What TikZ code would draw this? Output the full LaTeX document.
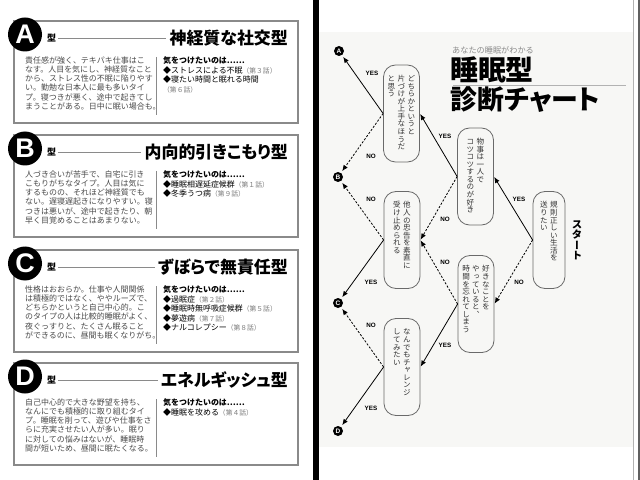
\documentclass[tikz,border=0pt]{standalone}
\usepackage{fontspec}
\usepackage{graphicx}
\setmainfont{Noto Sans CJK JP}
\newfontfamily\jp{Noto Sans CJK JP}
\newfontfamily\jpp[RawFeature=+palt]{Noto Sans CJK JP}
\newfontfamily\tatefont[RawFeature=+vert]{Noto Sans CJK JP}
\newfontfamily\lat{Liberation Sans}
\usetikzlibrary{arrows.meta}
\definecolor{bodygray}{HTML}{4A4A4A}
\definecolor{framegray}{HTML}{8A8A8A}
\definecolor{flowframe}{HTML}{6A6A6A}
\definecolor{pagebg}{HTML}{F7F7F5}
\definecolor{subgray}{HTML}{8C8C8C}
\definecolor{epgray}{HTML}{7A7A7A}
\definecolor{flowtext}{HTML}{333333}
\definecolor{edgegray}{HTML}{606060}
\newcommand{\ep}[1]{{\color{epgray}\fontsize{6.8}{9}\selectfont#1}}
\makeatletter
\newcommand{\tcol}[1]{\vtop{\offinterlineskip\@tfor\tc@ch:=#1\do{\hbox to 1em{\vrule height .88em depth .12em width 0pt\hss\tc@ch\hss}}}}
\makeatother
\newcommand{\tg}{\hskip 2.4bp}
\newcommand{\tv}[1]{{\tatefont\fontsize{7.6}{7.6}\selectfont\color{flowtext}#1}}
\newcommand{\typepanel}[5]{%
  \draw[typebox] (14,#2) rectangle (298,#2+102);
  \node[badge] (badge#1) at (25,#2+13.5) {#1};
  \node[kata] (kata#1) at (47,#2+17) {型};
  \node[ptitle] (title#1) at (288,#2+17) {#3};
  \draw[sepline] ([xshift=2bp]kata#1.east) -- ([xshift=-3bp]title#1.west);
  \node[bodytext] (body#1) at (25,#2+35.5) {#4};
  \draw[sepline] (156,#2+36) -- (156,#2+94);
  \node[caretext] (care#1) at (163,#2+35.5) {#5};
}
\begin{document}
\begin{tikzpicture}[x=1bp,y=-1bp,
  typebox/.style={draw=framegray,line width=1.1bp},
  badge/.style={circle,fill=black,minimum size=34bp,inner sep=0pt,text=white,font=\lat\bfseries\fontsize{27}{27}\selectfont},
  kata/.style={font=\jp\bfseries\fontsize{9}{9}\selectfont,inner sep=0pt,anchor=west},
  ptitle/.style={font=\jpp\bfseries\fontsize{17}{17}\selectfont,inner sep=0pt,anchor=east,text=black},
  sepline/.style={draw=framegray,line width=0.7bp},
  bodytext/.style={font=\jp\fontsize{8}{9.2}\selectfont,text=bodygray,align=left,inner sep=0pt,anchor=north west},
  caretext/.style={font=\jp\fontsize{8}{9.6}\selectfont,text=black,align=left,inner sep=0pt,anchor=north west},
  flowbox/.style={draw=flowframe,fill=pagebg,rounded corners=12bp,line width=0.8bp,minimum height=97bp,minimum width=36bp,inner sep=0pt},
  flowtxt/.style={inner sep=0pt,anchor=north},
  term/.style={circle,fill=black,minimum size=10bp,inner sep=0pt,text=white,font=\lat\bfseries\fontsize{6.5}{6.5}\selectfont},
  yesarrow/.style={draw=black,line width=0.8bp,-{Latex[length=6bp,width=5bp]},shorten >=0.5bp},
  noarrow/.style={yesarrow,dash pattern=on 2.2bp off 1.6bp},
  lab/.style={font=\lat\bfseries\fontsize{6.3}{6.3}\selectfont,inner sep=0pt},
]
\useasboundingbox (0,0) rectangle (640,480);
\fill[white] (0,0) rectangle (640,480);
% right page background and page edges
\fill[pagebg] (319,32) rectangle (633,447);
\fill[black] (313,0) rectangle (319,480);
\draw[gray!60,line width=0.6bp] (633.5,0) -- (633.5,480);
\fill[edgegray] (637.5,0) rectangle (640,480);

% ---------- left page ----------
\typepanel{A}{21}{神経質な社交型}
{責任感が強く、テキパキ仕事はこ\\なす。人目を気にし、神経質なこと\\から、ストレス性の不眠に陥りやす\\い。勤勉な日本人に最も多いタイ\\プ。寝つきが悪く、途中で起きてし\\まうことがある。日中に眠い場合も。}
{{\bfseries 気をつけたいのは……}\\◆ストレスによる不眠\ep{（第３話）}\\◆寝たい時間と眠れる時間\\\ep{（第６話）}}

\typepanel{B}{135}{内向的引きこもり型}
{人づき合いが苦手で、自宅に引き\\こもりがちなタイプ。人目は気に\\するものの、それほど神経質でも\\ない。遅寝遅起きになりやすい。寝\\つきは悪いが、途中で起きたり、朝\\早く目覚めることはあまりない。}
{{\bfseries 気をつけたいのは……}\\◆睡眠相遅延症候群\ep{（第１話）}\\◆冬季うつ病\ep{（第９話）}}

\typepanel{C}{250}{ずぼらで無責任型}
{性格はおおらか。仕事や人間関係\\は積極的ではなく、ややルーズで、\\どちらかというと自己中心的。こ\\のタイプの人は比較的睡眠がよく、\\夜ぐっすりと、たくさん眠ること\\ができるのに、昼間も眠くなりがち。}
{{\bfseries 気をつけたいのは……}\\◆過眠症\ep{（第２話）}\\◆睡眠時無呼吸症候群\ep{（第５話）}\\◆夢遊病\ep{（第７話）}\\◆ナルコレプシー\ep{（第８話）}}

\typepanel{D}{363}{エネルギッシュ型}
{自己中心的で大きな野望を持ち、\\なんにでも積極的に取り組むタイ\\プ。睡眠を削って、遊びや仕事をさ\\らに充実させたい人が多い。眠り\\に対しての悩みはないが、睡眠時\\間が短いため、昼間に眠たくなる。}
{{\bfseries 気をつけたいのは……}\\◆睡眠を攻める\ep{（第４話）}}

% ---------- right page ----------
\node[font=\jp\fontsize{8.2}{8.2}\selectfont,text=subgray,anchor=west,inner sep=0pt] (sub) at (452,50) {あなたの睡眠がわかる};
\node[font=\jp\bfseries\fontsize{28}{28}\selectfont,anchor=west,inner sep=0pt] (head1) at (450,70) {睡眠型};
\draw[gray!60,line width=0.8bp] (453,85) -- (626,85);
\node[font=\jpp\bfseries\fontsize{27}{27}\selectfont,anchor=west,inner sep=0pt] (head2) at (450,100) {診断チャート};

% flow boxes
\node[flowbox,minimum width=32bp] (n1) at (549,240) {};
\node[flowbox] (n2) at (475.5,176.5) {};
\node[flowbox] (n3) at (476,304) {};
\node[flowbox] (n4) at (401.5,113.5) {};
\node[flowbox] (n5) at (402,240) {};
\node[flowbox] (n6) at (402,367) {};

\node[flowtxt] (t1) at ([yshift=-10bp]n1.north) {\tv{\tcol{送りたい}\tg\tcol{規則正しい生活を}}};
\node[flowtxt] (t2) at ([yshift=-10bp]n2.north) {\tv{\tcol{コツコツするのが好き}\tg\tcol{物事は一人で}}};
\node[flowtxt] (t3) at ([yshift=-10bp]n3.north) {\tv{\tcol{時間を忘れてしまう}\tg\tcol{やっていると、}\tg\tcol{好きなことを}}};
\node[flowtxt] (t4) at ([yshift=-10bp]n4.north) {\tv{\tcol{と思う}\tg\tcol{片づけが上手なほうだ}\tg\tcol{どちらかというと}}};
\node[flowtxt] (t5) at ([yshift=-10bp]n5.north) {\tv{\tcol{受け止められる}\tg\tcol{他人の忠告を素直に}}};
\node[flowtxt] (t6) at ([yshift=-10bp]n6.north) {\tv{\tcol{してみたい}\tg\tcol{なんでもチャレンジ}}};

\node[inner sep=0pt] (start) at (577,240) {\tatefont\bfseries\fontsize{10.5}{10.5}\selectfont\tcol{スタート}};

% terminals
\node[term] (A) at (339,51) {A};
\node[term] (B) at (338,177) {B};
\node[term] (C) at (338,303) {C};
\node[term] (D) at (338,431) {D};

% connectors
\draw[yesarrow] (n1.west) -- (n2.east);
\draw[noarrow]  (n1.west) -- (n3.east);
\draw[yesarrow] (n2.west) -- (n4.east);
\draw[noarrow]  (n2.west) -- (n5.east);
\draw[noarrow]  (n3.west) -- (n5.east);
\draw[yesarrow] (n3.west) -- (n6.east);
\draw[yesarrow,shorten >=2bp] (n4.west) -- (A);
\draw[noarrow,shorten >=2bp]  (n4.west) -- (B);
\draw[noarrow,shorten >=2bp]  (n5.west) -- (B);
\draw[yesarrow,shorten >=2bp] (n5.west) -- (C);
\draw[noarrow,shorten >=2bp]  (n6.west) -- (C);
\draw[yesarrow,shorten >=2bp] (n6.west) -- (D);

% labels
\node[lab] (l1) at (519,199) {YES};
\node[lab] (l2) at (519,282) {NO};
\node[lab] (l3) at (445,136) {YES};
\node[lab] (l4) at (445,219) {NO};
\node[lab] (l5) at (445,262) {NO};
\node[lab] (l6) at (445,345) {YES};
\node[lab] (l7) at (372,73) {YES};
\node[lab] (l8) at (371,156) {NO};
\node[lab] (l9) at (371,199) {NO};
\node[lab] (l10) at (371,282) {YES};
\node[lab] (l11) at (371,325) {NO};
\node[lab] (l12) at (371,408) {YES};
\end{tikzpicture}
\end{document}
